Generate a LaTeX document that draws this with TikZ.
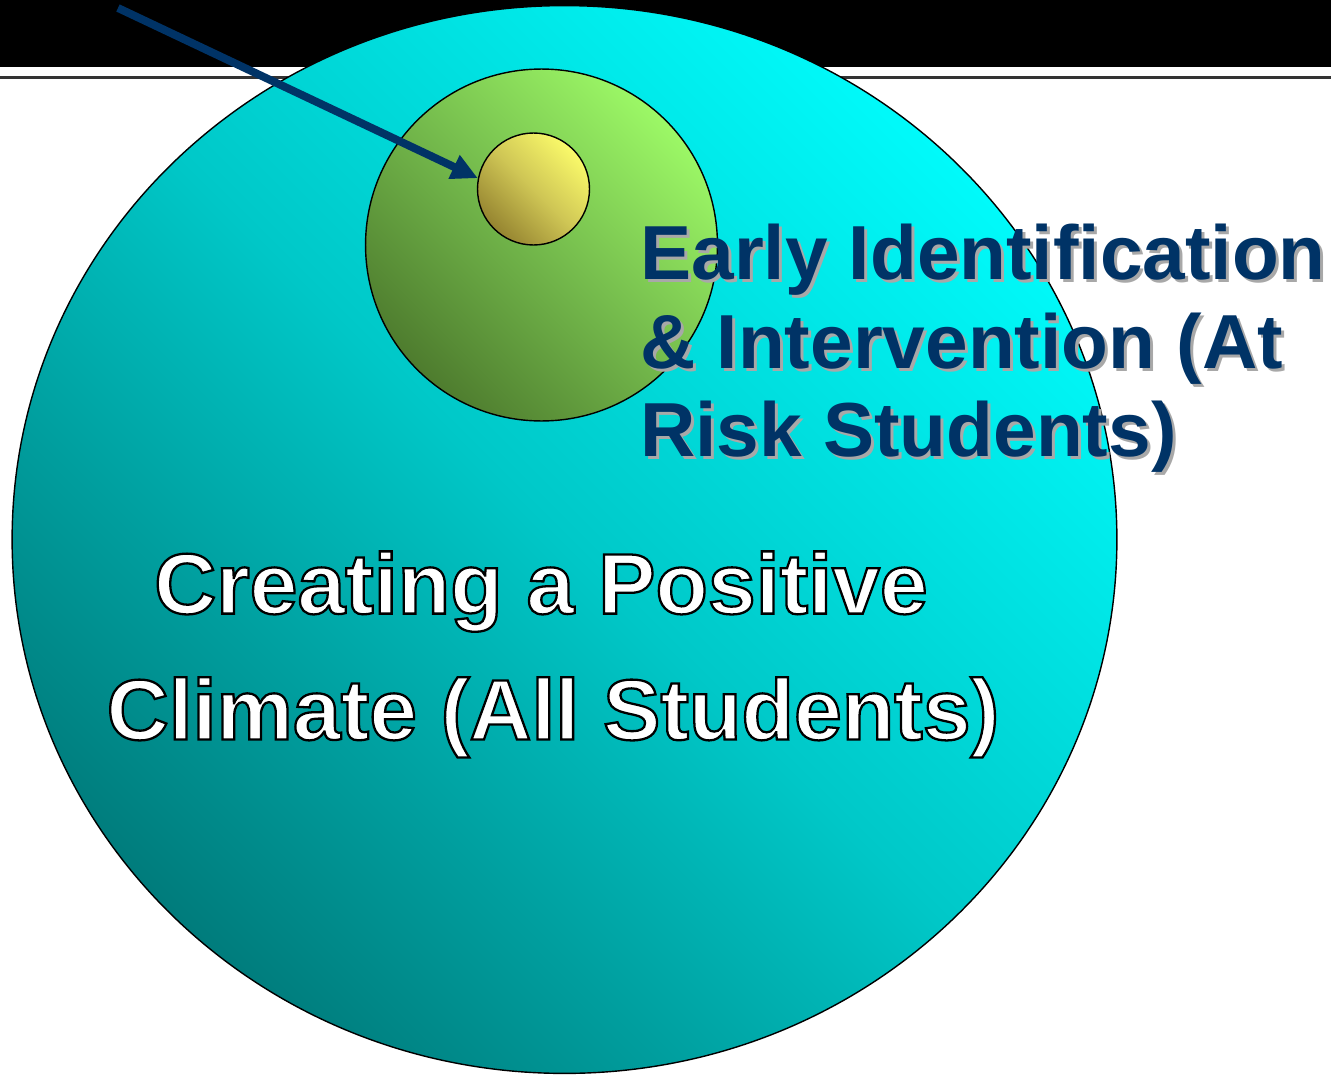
\documentclass[tikz,border=0pt]{standalone}
\usepackage{fontspec}
\setmainfont{Liberation Sans}
\usetikzlibrary{
  shapes.geometric,
  arrows.meta,
  positioning
}

\definecolor{navy}{HTML}{003366}
\definecolor{shadowgray}{HTML}{A8A8A8}
\definecolor{tealdark}{HTML}{007C7C}
\definecolor{tealmid}{HTML}{00C8C8}
\definecolor{tealcyan}{HTML}{00FAFA}
\definecolor{greendark}{HTML}{4E7C2E}
\definecolor{greenmid}{HTML}{74BA4C}
\definecolor{greenlight}{HTML}{9CF866}
\definecolor{yellowdark}{HTML}{958430}
\definecolor{yellowmid}{HTML}{CFC655}
\definecolor{yellowlight}{HTML}{FAFA6A}

% white letters with a black stroke round them
\newcommand{\outlined}[1]{%
  \special{pdf:literal direct 2 Tr 1.3 w 0 0 0 RG}#1\special{pdf:literal direct 0 Tr}}

\tikzset{
  ring/.style={draw=black, line width=0.8pt, inner sep=0pt},
  earlytext/.style={font=\bfseries\fontsize{43.6}{50.4}\selectfont, align=left, inner sep=0pt, anchor=north west},
  climatetext/.style={font=\bfseries\fontsize{48.9}{71.7}\selectfont, align=center, inner sep=0pt, anchor=north, text=white}
}

\newcommand{\earlylabel}{Early Identification\\ \& Intervention (At\\ Risk Students)}

\begin{document}
\begin{tikzpicture}[x=0.02cm, y=0.02cm]
    \useasboundingbox (0,0) rectangle (1331,-1075);
    % title band
    \fill[black] (0,0) rectangle (1331,-67);
    \draw[line width=1.2pt, black!80] (0,-77.5) -- (1331,-77.5);

    \node[ring, ellipse, minimum width=22.1cm, minimum height=21.36cm,
      bottom color=tealdark, top color=tealcyan, middle color=tealmid, shading angle=-45] (climate) at (564.5,-539.5) {};
    \node[ring, circle, minimum size=7.04cm,
      bottom color=greendark, top color=greenlight, middle color=greenmid, shading angle=-45] (early) at (541.5,-245) {};
    \node[ring, circle, minimum size=2.24cm,
      bottom color=yellowdark, top color=yellowlight, middle color=yellowmid, shading angle=-45] (target) at (533.5,-189) {};

    \coordinate (title) at (118,-8);
    \draw[navy, line width=4.5pt, -{Triangle[length=15pt, width=14pt]}] (title) -- (target.169);

    % labels
    \node[earlytext, text=shadowgray] at (643,-227) {\earlylabel};
    \node[earlytext, text=navy] (earlylabel) at (640,-224) {\earlylabel};

    \node[climatetext] (climatelabel) at (553,-551)
      {\outlined{Creating a Positive}\hspace*{0.28em}\\ \outlined{Climate (All Students)}};
\end{tikzpicture}
\end{document}
